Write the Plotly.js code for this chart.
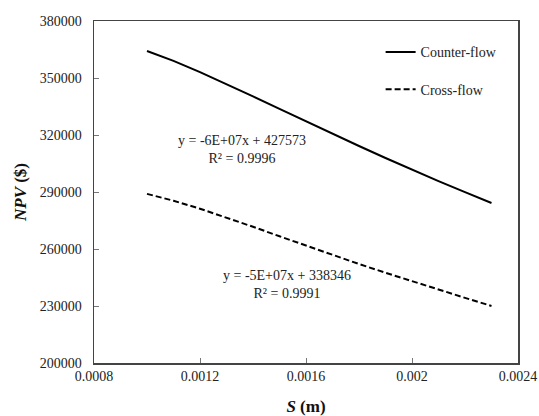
<!DOCTYPE html>
<html>
<head>
<meta charset="utf-8">
<script src="https://cdn.plot.ly/plotly-3.0.1.min.js"></script>
<style>html,body{margin:0;padding:0;background:#fff;}#chart{width:539px;height:416px;}</style>
</head>
<body>
<div id="chart"></div>
<script>
const spacing = [0.0010, 0.0011, 0.0012, 0.0013, 0.0014, 0.0015, 0.0016, 0.0017, 0.0018, 0.0019, 0.0020, 0.0021, 0.0022, 0.0023];
const counterFlow = [364200, 359000, 353100, 346800, 340300, 333700, 327100, 320600, 314200, 307900, 301700, 295700, 289900, 284200];
const crossFlow = [289000, 285400, 281200, 276600, 271700, 266700, 261700, 256800, 252100, 247500, 243000, 238600, 234300, 230000];
const seriesNames = ['Counter-flow', 'Cross-flow'];
const xTicks = [0.0008, 0.0012, 0.0016, 0.002, 0.0024];
const xTickText = ['0.0008', '0.0012', '0.0016', '0.002', '0.0024'];
const yTicks = [200000, 230000, 260000, 290000, 320000, 350000, 380000];
const yTickText = ['200000', '230000', '260000', '290000', '320000', '350000', '380000'];
const eqCounter = ['y = -6E+07x + 427573', 'R² = 0.9996'];
const eqCross = ['y = -5E+07x + 338346', 'R² = 0.9991'];

const serif = 'Liberation Serif, Times New Roman, serif';
const traces = [
  {x: spacing, y: counterFlow, name: seriesNames[0], mode: 'lines', legendgroup: 'a',
   line: {color: '#000', width: 2, dash: 'solid'}},
  {x: spacing, y: crossFlow, name: seriesNames[1], mode: 'lines', legendgroup: 'b',
   line: {color: '#000', width: 2, dash: '6px,3px'}}
];
const axisCommon = {
  showgrid: false, zeroline: false, showline: true, mirror: true,
  linecolor: '#444', linewidth: 1.5, ticks: 'inside', ticklen: 5, tickcolor: '#777', tickwidth: 1,
  tickfont: {family: serif, size: 14, color: '#222'}, tickmode: 'array'
};
const layout = {
  width: 539, height: 416,
  margin: {l: 94, r: 21, t: 21, b: 53},
  paper_bgcolor: '#fff', plot_bgcolor: '#fff',
  showlegend: true,
  legend: {x: 0.676, y: 0.955, xanchor: 'left', yanchor: 'top', bgcolor: 'rgba(0,0,0,0)',
    font: {family: serif, size: 14, color: '#222'}, traceorder: 'grouped', tracegroupgap: 16},
  xaxis: Object.assign({}, axisCommon, {range: [0.0008, 0.0024], tickvals: xTicks, ticktext: xTickText,
    title: {text: '<b><i>S</i> (m)</b>', font: {family: serif, size: 17, color: '#111'}, standoff: 21}}),
  yaxis: Object.assign({}, axisCommon, {range: [200000, 380000], tickvals: yTicks, ticktext: yTickText,
    ticklabelstandoff: 8,
    title: {text: '<b><i>NPV</i> ($)</b>', font: {family: serif, size: 17, color: '#111'}, standoff: 9}}),
  annotations: [
    {x: 0.001357, y: 312600, xref: 'x', yref: 'y', text: eqCounter.join('<br>'), showarrow: false,
     font: {family: serif, size: 14, color: '#222'}, align: 'center'},
    {x: 0.001528, y: 241300, xref: 'x', yref: 'y', text: eqCross.join('<br>'), showarrow: false,
     font: {family: serif, size: 14, color: '#222'}, align: 'center'}
  ]
};
Plotly.newPlot('chart', traces, layout, {displayModeBar: false, staticPlot: true});
</script>
</body>
</html>
